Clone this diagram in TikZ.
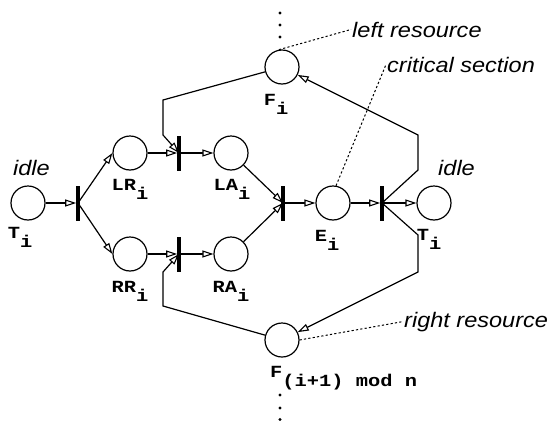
\documentclass[tikz,border=0pt]{standalone}
\usepackage{fontspec}
\usetikzlibrary{arrows.meta}
\newfontfamily\annfont[FakeStretch=1.12]{Liberation Sans}
\newfontfamily\monofont[FakeStretch=1.2]{Liberation Mono}
\newcommand\lowsub[1]{\raisebox{-9pt}{#1}}
\tikzset{
  place/.style={circle, draw, line width=1.2pt, minimum size=34pt, inner sep=0pt},
  trans/.style={rectangle, fill=black, minimum width=3.2pt, minimum height=35pt, inner sep=0pt},
  arc/.style={line width=1.2pt, -{Triangle[fill=white,length=11pt,width=7pt,line width=1.1pt]}},
  plain/.style={line width=1.2pt},
  note/.style={font=\annfont\itshape\fontsize{21}{24}\selectfont, inner sep=1pt},
  lbl/.style={font=\monofont\bfseries\fontsize{17}{20}\selectfont, inner sep=0pt},
  callout/.style={line width=1pt, dash pattern=on 2.2pt off 2.2pt},
  dot/.style={circle, fill=black, inner sep=0pt, minimum size=3.4pt}
}
\begin{document}
\begin{tikzpicture}[x=1pt,y=-1pt]
\useasboundingbox (0,0) rectangle (550,421);
% places
\node[place] (TL) at (28,203) {};
\node[place] (LR) at (130,153) {};
\node[place] (LA) at (231,153) {};
\node[place] (RR) at (130,254) {};
\node[place] (RA) at (231,254) {};
\node[place] (E) at (333,203) {};
\node[place] (TR) at (434,203) {};
\node[place] (F) at (282,67) {};
\node[place] (G) at (282,340) {};
% transitions
\node[trans] (t1) at (78,203) {};
\node[trans] (t2) at (179,153) {};
\node[trans] (t3) at (179,254) {};
\node[trans] (t4) at (283,203) {};
\node[trans] (t5) at (382,203) {};
% arcs
\draw[arc] (TL) -- (t1);
\draw[arc] (t1.center) -- (LR.west);
\draw[arc] (t1.center) -- (RR.west);
\draw[arc] (LR) -- (t2);
\draw[arc] (t2) -- (LA);
\draw[arc] (RR) -- (t3);
\draw[arc] (t3) -- (RA);
\draw[arc] (LA) -- (t4.center);
\draw[arc] (RA) -- (t4.center);
\draw[arc] (t4) -- (E);
\draw[arc] (E) -- (t5);
\draw[arc] (t5) -- (TR);
\draw[arc] (F.196) -- (163,100) -- (163,135) -- (t2.center);
\draw[arc] (G.164) -- (163,306) -- (163,272) -- (t3.center);
\draw[arc] (t5.center) -- (418,170) -- (418,135) -- (F);
\draw[arc] (t5.center) -- (418,235) -- (418,272) -- (G);
% labels
\node[lbl, anchor=base] (lTL) at (20,238) {T\lowsub{i}};
\node[lbl, anchor=base] (lLR) at (130,190) {LR\lowsub{i}};
\node[lbl, anchor=base] (lLA) at (232,190) {LA\lowsub{i}};
\node[lbl, anchor=base] (lRR) at (130,292) {RR\lowsub{i}};
\node[lbl, anchor=base] (lRA) at (231,292) {RA\lowsub{i}};
\node[lbl, anchor=base] (lE) at (327,241) {E\lowsub{i}};
\node[lbl, anchor=base] (lTR) at (429,240) {T\lowsub{i}};
\node[lbl, anchor=base] (lF) at (276,105) {F\lowsub{i}};
\node[lbl, anchor=base west] (lG) at (270,377) {F\lowsub{(i+1) mod n}};
% annotations
\node[note, anchor=base west] (idl) at (12,175) {idle};
\node[note, anchor=base west] (idr) at (437,175) {idle};
\node[note, anchor=base west] (lres) at (351,37) {left resource};
\node[note, anchor=base west] (crit) at (386,72) {critical section};
\node[note, anchor=base west] (rres) at (403,327) {right resource};
\draw[callout] (F.100) -- (lres.west);
\draw[callout] (E.80) -- (crit.west);
\draw[callout] (G.east) -- (rres.west);
% ellipsis dots
\node[dot] (d1) at (280,13) {};
\node[dot] (d2) at (280,25) {};
\node[dot] (d3) at (280,37) {};
\node[dot] (d4) at (280,395) {};
\node[dot] (d5) at (280,408) {};
\node[dot] (d6) at (280,419.5) {};
\end{tikzpicture}
\end{document}
